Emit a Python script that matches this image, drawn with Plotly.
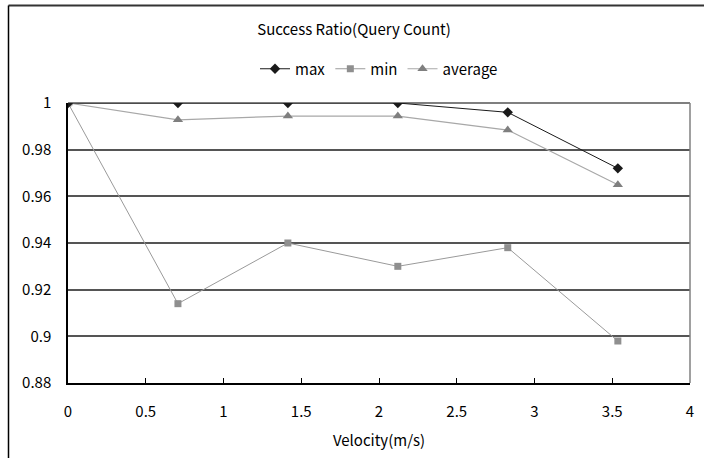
import plotly.graph_objects as go

velocity = [0, 0.707, 1.414, 2.121, 2.828, 3.536]
max_vals = [1.0, 1.0, 1.0, 1.0, 0.996, 0.972]
min_vals = [1.0, 0.914, 0.940, 0.930, 0.938, 0.898]
avg_vals = [1.0, 0.9928, 0.9944, 0.9944, 0.9884, 0.965]

W, H = 705, 458
L, R, T, B = 68, 15, 103, 75
pw, ph = W - L - R, H - T - B

FONT = "Noto Sans CJK JP, Arial"

fig = go.Figure()
fig.add_trace(go.Scatter(x=velocity, y=min_vals, name="min", mode="lines+markers",
                         line=dict(color="#9a9a9a", width=1),
                         marker=dict(symbol="square", size=7, color="#8f8f8f")))
fig.add_trace(go.Scatter(x=velocity, y=avg_vals, name="average", mode="lines+markers",
                         line=dict(color="#a8a8a8", width=1.2),
                         marker=dict(symbol="triangle-up", size=9, color="#7f7f7f")))
fig.add_trace(go.Scatter(x=velocity, y=max_vals, name="max", mode="lines+markers",
                         line=dict(color="#1a1a1a", width=1),
                         marker=dict(symbol="diamond", size=8, color="#1a1a1a")))

fig.data[2].legendrank = 1
fig.data[0].legendrank = 2
fig.data[1].legendrank = 3

fig.update_layout(
    width=W, height=H,
    margin=dict(l=L, r=R, t=T, b=B),
    paper_bgcolor="white", plot_bgcolor="white",
    font=dict(family=FONT, size=15, color="black"),
    title=dict(text="Success Ratio(Query Count)", x=354 / W, xanchor="center",
               y=1 - 30 / H, yanchor="middle", font=dict(size=15)),
    legend=dict(orientation="h", x=0.5, xanchor="center", y=1 + (103 - 69) / ph,
                yanchor="middle", font=dict(size=15), itemwidth=30,
                traceorder="normal", bgcolor="rgba(0,0,0,0)"),
    xaxis=dict(range=[0, 4], dtick=0.5, tick0=0, showgrid=False,
               showline=True, linecolor="black", linewidth=1.5,
               ticks="inside", ticklen=5, tickcolor="black",
               tickfont=dict(size=15), ticklabelstandoff=14,
               title=dict(text="Velocity(m/s)", standoff=16, font=dict(size=15)),
               zeroline=False),
    yaxis=dict(range=[0.88, 1.0], dtick=0.02, tick0=0.88, showgrid=True,
               gridcolor="#555555", gridwidth=1.5,
               showline=True, linecolor="black", linewidth=1.5,
               tickfont=dict(size=15),
               ticks="", ticklabelstandoff=12, zeroline=False),
    showlegend=True,
)

# top gridline at 1.0 and right edge of plot area
fig.add_shape(type="line", xref="paper", yref="paper", x0=0, x1=1, y0=1, y1=1,
              line=dict(color="#555555", width=1.5), layer="below")
fig.add_shape(type="line", xref="paper", yref="paper", x0=1, x1=1, y0=0, y1=1,
              line=dict(color="#808080", width=1.5))
# outer chart border (top and left)
bx = (8.5 - L) / pw
by = 1 + (T - 5.5) / ph
fig.add_shape(type="line", xref="paper", yref="paper", x0=bx, x1=1 + (R - 1) / pw,
              y0=by, y1=by, line=dict(color="#333333", width=2))
fig.add_shape(type="line", xref="paper", yref="paper", x0=bx, x1=bx,
              y0=by, y1=-(B + 5) / ph, line=dict(color="black", width=1.5))

fig.write_html("out.html")
